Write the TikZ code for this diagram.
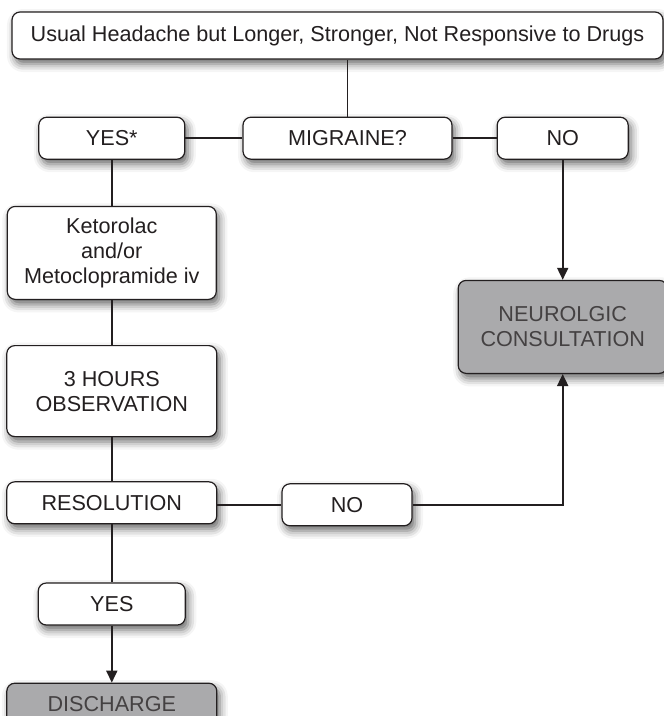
\documentclass[tikz,border=0pt]{standalone}
\usepackage{fontspec}
\setmainfont{Liberation Sans}
\usetikzlibrary{shapes, arrows.meta, positioning, shadows.blur}
\definecolor{ink}{RGB}{35, 31, 32}
\definecolor{endgray}{RGB}{170, 170, 172}
\newcommand{\boxfont}{\fontsize{21.6}{25}\selectfont}

\begin{document}
\begin{tikzpicture}[
        x=1pt, y=1pt,
        step box/.style={draw=ink, line width=1.2pt, rounded corners=8pt, fill=white, inner sep=0pt, minimum height=42pt, align=center, text=ink, font=\boxfont, blur shadow={shadow xshift=3pt, shadow yshift=-5pt, shadow blur radius=8pt, shadow opacity=60}},
        end box/.style={step box, fill=endgray, text=ink!85},
        link/.style={draw=ink, line width=1.8pt},
        arrow/.style={link, -{Triangle[length=12pt, width=11pt]}}
    ]
        \useasboundingbox (0,0) rectangle (664,-716);
        \node[step box, minimum width=651pt, minimum height=47pt] (start) at (337.5,-35.5) {Usual Headache but Longer, Stronger, Not Responsive to Drugs};
        \node[step box, minimum width=209pt, below=57pt of start, xshift=10pt] (migraine) {MIGRAINE?};
        \node[step box, minimum width=146pt, left=57pt of migraine] (yesfirst) {YES*};
        \node[step box, minimum width=131pt, right=44pt of migraine] (nofirst) {NO};
        \node[step box, minimum width=209pt, minimum height=93pt, below=46pt of yesfirst] (drugs) {Ketorolac\\and/or\\Metoclopramide iv};
        \node[step box, minimum width=210pt, minimum height=91pt, below=45pt of drugs] (watch) {3 HOURS\\OBSERVATION};
        \node[step box, minimum width=210pt, below=44pt of watch] (resolution) {RESOLUTION};
        \node[step box, minimum width=130pt, right=64pt of resolution, yshift=-2pt] (nosecond) {NO};
        \node[step box, minimum width=147pt, below=58pt of resolution] (yessecond) {YES};
        \node[end box, minimum width=210pt, below=57pt of yessecond] (discharge) {DISCHARGE};
        \node[end box, minimum width=209pt, minimum height=93pt, below=120pt of nofirst] (neuro) {NEUROLGIC\\CONSULTATION};

        \draw[link] (migraine.north) -- (migraine.north |- start.south);
        \draw[link] (yesfirst) -- (migraine);
        \draw[link] (migraine) -- (nofirst);
        \draw[arrow] (nofirst) -- (nofirst |- neuro.north);
        \draw[link] (yesfirst) -- (yesfirst |- drugs.north);
        \draw[link] (drugs) -- (watch);
        \draw[link] (watch) -- (resolution);
        \draw[link] (resolution) -- (yessecond);
        \draw[arrow] (yessecond) -- (discharge);
        \draw[link] (resolution.east |- nosecond) -- (nosecond);
        \draw[arrow] (nosecond.east) -| (nofirst |- neuro.south);
    \end{tikzpicture}
\end{document}
